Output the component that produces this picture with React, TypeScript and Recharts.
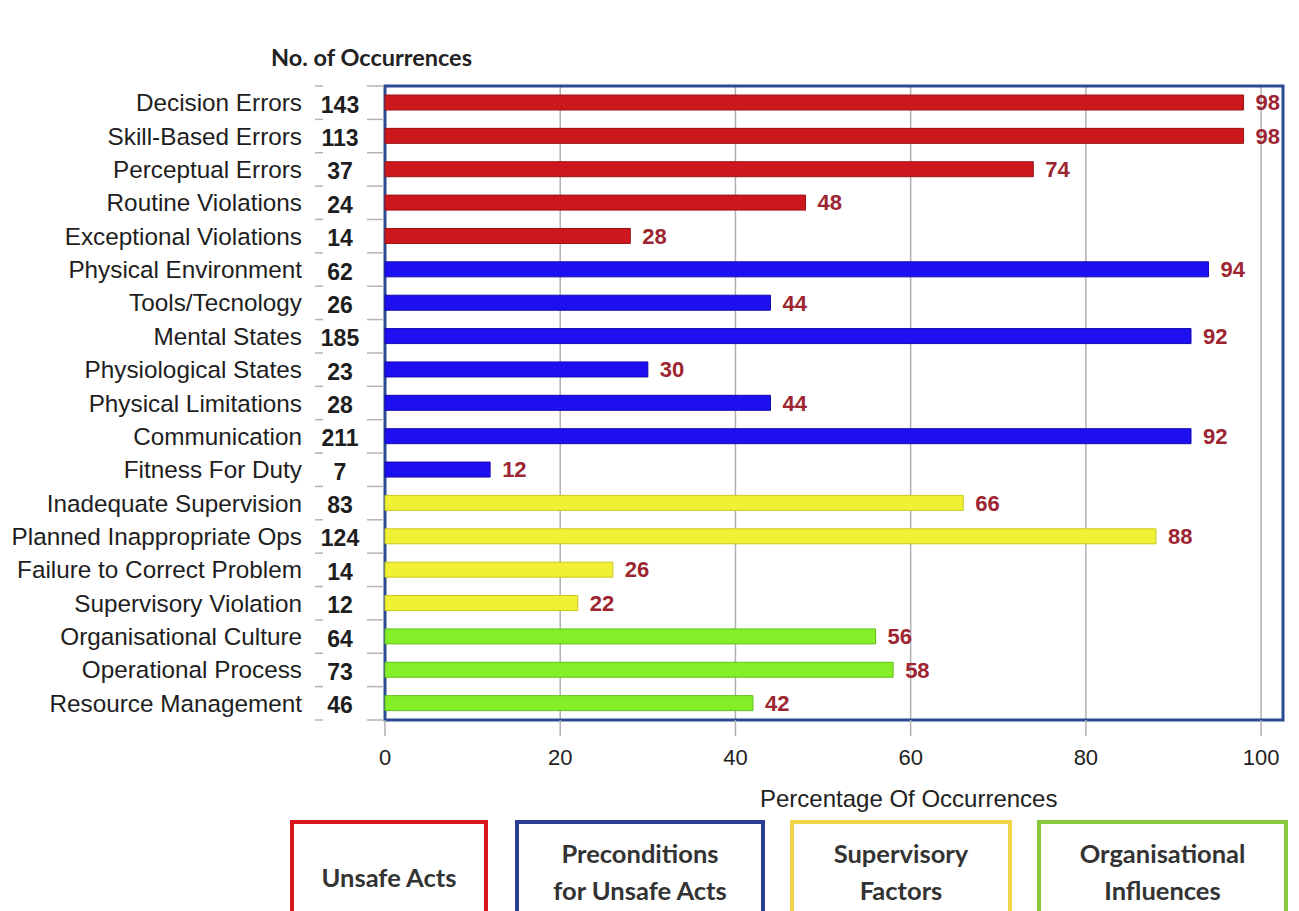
import React from "react";
import { BarChart, Bar, XAxis, YAxis, CartesianGrid, Cell, LabelList, ReferenceArea } from "recharts";

const categories = [
  "Decision Errors",
  "Skill-Based Errors",
  "Perceptual Errors",
  "Routine Violations",
  "Exceptional Violations",
  "Physical Environment",
  "Tools/Tecnology",
  "Mental States",
  "Physiological States",
  "Physical Limitations",
  "Communication",
  "Fitness For Duty",
  "Inadequate Supervision",
  "Planned Inappropriate Ops",
  "Failure to Correct Problem",
  "Supervisory Violation",
  "Organisational Culture",
  "Operational Process",
  "Resource Management",
];
const occurrences = [143, 113, 37, 24, 14, 62, 26, 185, 23, 28, 211, 7, 83, 124, 14, 12, 64, 73, 46];
const percentages = [98, 98, 74, 48, 28, 94, 44, 92, 30, 44, 92, 12, 66, 88, 26, 22, 56, 58, 42];
// 0 unsafe acts, 1 preconditions, 2 supervisory, 3 organisational
const groups = [0, 0, 0, 0, 0, 1, 1, 1, 1, 1, 1, 1, 2, 2, 2, 2, 3, 3, 3];
const groupNames = ["Unsafe Acts", "Preconditions\nfor Unsafe Acts", "Supervisory\nFactors", "Organisational\nInfluences"];
const xTicks = [0, 20, 40, 60, 80, 100];

const fills = ["#cc181c", "#1e0ff0", "#f0f034", "#84ee28"];
const strokes = ["#9a1216", "#1408b0", "#c8c820", "#62c01c"];
const boxColors = ["#d8141c", "#2a3f8f", "#f0d44a", "#88c83c"];
const boxes = [
  { left: 290, width: 198 },
  { left: 515, width: 250 },
  { left: 790, width: 222 },
  { left: 1037, width: 251 },
];

const data = categories.map((name, i) => ({
  name,
  count: occurrences[i],
  pct: percentages[i],
  group: groups[i],
}));

const PLOT_TOP = 86;
const PLOT_BOTTOM = 720;
const X_MAX = 102.5;
const HALF_BAND = (PLOT_BOTTOM - PLOT_TOP) / categories.length / 2;
const FONT = "'Liberation Sans', Arial, sans-serif";
const CAL = "Lato, 'Open Sans', sans-serif";

const YTick = ({ y, payload }: any) => {
  const i = categories.indexOf(payload.value);
  const last = i === categories.length - 1;
  return (
    <g>
      <text x={302} y={y} textAnchor="end" dominantBaseline="central" fontSize={24.3} fill="#1e1e1e" fontFamily={FONT}>
        {payload.value}
      </text>
      <text x={340} y={y + 2} textAnchor="middle" dominantBaseline="central" fontSize={23} fontWeight="bold" fill="#1e1e1e" fontFamily={FONT}>
        {occurrences[i]}
      </text>
      <line x1={315} x2={323} y1={y - HALF_BAND} y2={y - HALF_BAND} stroke="#b4b4b4" strokeWidth={1.5} />
      <line x1={367} x2={384} y1={y - HALF_BAND} y2={y - HALF_BAND} stroke="#b4b4b4" strokeWidth={1.5} />
      {last && (
        <>
          <line x1={315} x2={323} y1={y + HALF_BAND} y2={y + HALF_BAND} stroke="#b4b4b4" strokeWidth={1.5} />
          <line x1={367} x2={384} y1={y + HALF_BAND} y2={y + HALF_BAND} stroke="#b4b4b4" strokeWidth={1.5} />
        </>
      )}
    </g>
  );
};

const XTick = ({ x, y, payload }: any) => (
  <text x={x} y={y + 19} textAnchor="middle" dominantBaseline="central" fontSize={22} fill="#222" fontFamily={FONT}>
    {payload.value}
  </text>
);

export default function App() {
  return (
    <div style={{ position: "absolute", left: 0, top: 0, width: 1299, height: 911, background: "#fff", overflow: "hidden" }}>
      <div
        style={{
          position: "absolute",
          left: 271,
          top: 43,
          fontFamily: CAL,
          fontWeight: "bold",
          fontSize: 23.5,
          color: "#222",
        }}
      >
        No. of Occurrences
      </div>
      <div style={{ position: "absolute", left: 0, top: 0 }}>
        <BarChart
          width={1299}
          height={820}
          data={data}
          layout="vertical"
          margin={{ top: PLOT_TOP, right: 16, bottom: 0, left: 0 }}
          barSize={15}
        >
          <CartesianGrid horizontal={false} vertical={true} stroke="#b0b0b0" strokeWidth={1.5} />
          <XAxis
            type="number"
            domain={[0, X_MAX]}
            ticks={xTicks}
            height={820 - PLOT_BOTTOM}
            axisLine={false}
            tickLine={{ stroke: "#b0b0b0", strokeWidth: 1.5 }}
            tickSize={16}
            tick={<XTick />}
          />
          <YAxis
            type="category"
            dataKey="name"
            width={385}
            axisLine={false}
            tickLine={false}
            interval={0}
            tick={<YTick />}
          />
          <ReferenceArea x1={0} x2={X_MAX} fill="none" stroke="#2b4a94" strokeWidth={3} ifOverflow="visible" />
          <Bar dataKey="pct" isAnimationActive={false}>
            {data.map((d, i) => (
              <Cell key={i} fill={fills[d.group]} stroke={strokes[d.group]} strokeWidth={1} />
            ))}
            <LabelList
              dataKey="pct"
              position="right"
              offset={12}
              fill="#9d2532"
              fontSize={22}
              fontWeight="bold"
              fontFamily={FONT}
            />
          </Bar>
        </BarChart>
      </div>
      <div
        style={{
          position: "absolute",
          left: 760,
          top: 785,
          fontFamily: FONT,
          fontSize: 24,
          color: "#222",
        }}
      >
        Percentage Of Occurrences
      </div>
      {boxes.map((b, i) => (
        <div
          key={i}
          style={{
            position: "absolute",
            left: b.left,
            top: 820,
            width: b.width,
            height: 100,
            boxSizing: "border-box",
            border: `4px solid ${boxColors[i]}`,
            display: "flex",
            alignItems: "flex-start",
            justifyContent: "center",
            paddingTop: i === 0 ? 35 : 11,
            fontFamily: CAL,
            fontWeight: "bold",
            fontSize: 25.5,
            lineHeight: "37px",
            color: "#333",
            textAlign: "center",
            whiteSpace: "pre-line",
          }}
        >
          {groupNames[i]}
        </div>
      ))}
    </div>
  );
}
